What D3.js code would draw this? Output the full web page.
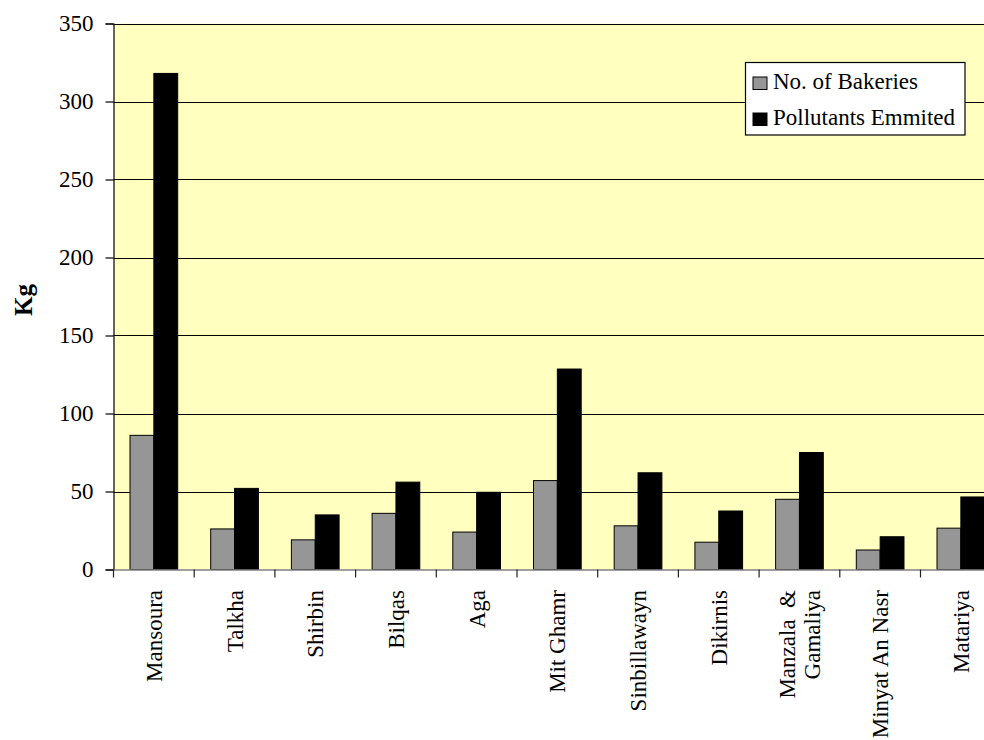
<!DOCTYPE html>
<html>
<head>
<meta charset="utf-8">
<script src="https://cdn.jsdelivr.net/npm/d3@7"></script>
<style>
  html, body { margin: 0; padding: 0; background: #fff; }
  svg { display: block; }
  text { font-family: "Liberation Serif", "Times New Roman", serif; fill: #000; }
</style>
</head>
<body>
<svg id="chart" width="984" height="740"></svg>
<script>
// Districts (a label may carry a second line)
const districts = [
  ["Mansoura"], ["Talkha"], ["Shirbin"], ["Bilqas"], ["Aga"], ["Mit Ghamr"],
  ["Sinbillawayn"], ["Dikirnis"], ["Manzala \u00a0&", "Gamaliya"], ["Minyat An Nasr"], ["Matariya"]
];
const seriesNames = ["No. of Bakeries", "Pollutants Emmited"];
const bakeries   = [86, 26, 19, 36, 24, 57, 28, 17.5, 45, 12.5, 26.5];
const pollutants = [318, 52, 35, 56, 49.5, 128.5, 62, 37.5, 75, 21, 46.5];
const yTicks = [0, 50, 100, 150, 200, 250, 300, 350];
const seriesColors = ["#969696", "#000000"];

const svg = d3.select("#chart");
const plotLeft = 113.5, plotTop = 23.5, plotBottom = 569.5, band = 80.7;
const plotRight = plotLeft + band * districts.length;
const fontSize = 23;

const keys = districts.map((d, i) => i);
const x = d3.scaleBand().domain(keys).range([plotLeft, plotRight]).padding(0);
const xInner = d3.scaleBand().domain([0, 1]).range([16.5, band - 16.5]).padding(0);
const y = d3.scaleLinear().domain([0, 350]).range([plotBottom, plotTop]);

// plot background
svg.append("rect")
  .attr("x", plotLeft).attr("y", plotTop)
  .attr("width", plotRight - plotLeft).attr("height", plotBottom - plotTop)
  .attr("fill", "#FFFFC0");

// horizontal gridlines
svg.append("g").selectAll("line")
  .data(yTicks.filter(t => t > 0))
  .join("line")
  .attr("x1", plotLeft).attr("x2", plotRight)
  .attr("y1", d => Math.round(y(d)) + 0.5).attr("y2", d => Math.round(y(d)) + 0.5)
  .attr("stroke", "#000").attr("stroke-width", 1.2);

// bars
const rows = keys.map(i => [bakeries[i], pollutants[i]]);
const groups = svg.append("g").selectAll("g")
  .data(rows)
  .join("g")
  .attr("transform", (d, i) => `translate(${x(i)},0)`);
groups.selectAll("rect")
  .data(d => d.map((v, s) => ({ v, s })))
  .join("rect")
  .attr("x", d => xInner(d.s))
  .attr("width", xInner.bandwidth())
  .attr("y", d => y(d.v))
  .attr("height", d => y(0) - y(d.v))
  .attr("fill", d => seriesColors[d.s])
  .attr("stroke", "#000").attr("stroke-width", 1);

// y axis
const yAxis = d3.axisLeft(y).tickValues(yTicks).tickSize(8).tickPadding(12).tickFormat(d3.format("d"));
const gy = svg.append("g").attr("transform", `translate(${plotLeft},0)`).call(yAxis);
gy.select(".domain").attr("stroke", "#000").attr("stroke-width", 1.2);
gy.selectAll(".tick line").attr("stroke", "#000").attr("stroke-width", 1.2);
gy.selectAll(".tick text").attr("font-size", fontSize).attr("font-family", "Liberation Serif");

// x axis: baseline and tick marks at category boundaries
svg.append("line")
  .attr("x1", plotLeft).attr("x2", plotRight)
  .attr("y1", plotBottom + 0.5).attr("y2", plotBottom + 0.5)
  .attr("stroke", "#808080").attr("stroke-width", 1.5);
svg.append("g").selectAll("line")
  .data(d3.range(districts.length + 1))
  .join("line")
  .attr("x1", i => plotLeft + i * band).attr("x2", i => plotLeft + i * band)
  .attr("y1", plotBottom).attr("y2", plotBottom + 8)
  .attr("stroke", "#222").attr("stroke-width", 1.2);

// rotated category labels
const lineGap = 25;
const labels = svg.append("g").selectAll("text")
  .data(keys)
  .join("text")
  .attr("transform", i => `translate(${x(i) + band / 2},590) rotate(-90)`)
  .attr("text-anchor", "end")
  .attr("font-size", fontSize);
labels.each(function (i) {
  const lines = districts[i];
  const sel = d3.select(this);
  lines.forEach((ln, k) => {
    const off = (k - (lines.length - 1) / 2) * lineGap;
    sel.append("tspan").attr("x", 0).attr("y", off).attr("dy", "0.35em").text(ln);
  });
});

// y axis title
svg.append("text")
  .attr("transform", `translate(32,300) rotate(-90)`)
  .attr("text-anchor", "middle")
  .attr("font-size", 25).attr("font-weight", "bold")
  .text("Kg");

// legend
const lg = svg.append("g");
lg.append("rect")
  .attr("x", 745.5).attr("y", 62.5).attr("width", 219.5).attr("height", 72.5)
  .attr("fill", "#fff").attr("stroke", "#000").attr("stroke-width", 1.2);
seriesNames.forEach((name, s) => {
  const cy = 83 + s * 36;
  lg.append("rect")
    .attr("x", 753).attr("y", cy - 6).attr("width", 14).attr("height", 12.5)
    .attr("fill", seriesColors[s]).attr("stroke", "#000").attr("stroke-width", 1);
  lg.append("text")
    .attr("x", 773).attr("y", cy + 5.5)
    .attr("font-size", fontSize)
    .text(name);
});
</script>
</body>
</html>
